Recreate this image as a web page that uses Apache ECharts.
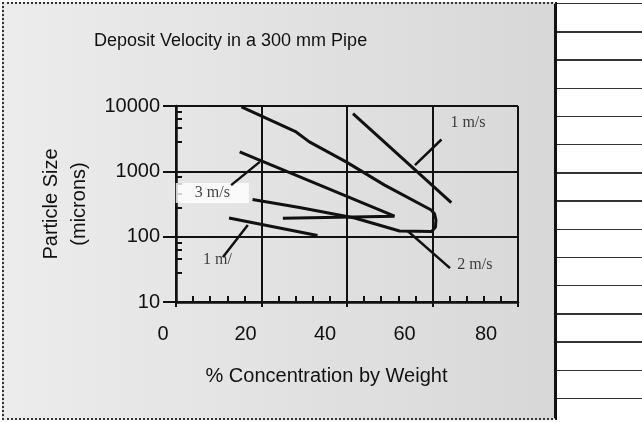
<!DOCTYPE html>
<html>
<head>
<meta charset="utf-8">
<title>Deposit Velocity in a 300 mm Pipe</title>
<script src="https://cdn.jsdelivr.net/npm/echarts@6/dist/echarts.min.js"></script>
<style>
  html, body { margin: 0; padding: 0; background: #fff; }
  #wrap { position: relative; width: 642px; height: 422px; overflow: hidden; }
  #panel {
    position: absolute; left: 2px; top: 2px; width: 550px; height: 414px;
    border-left: 2px dotted #333; border-top: 2px dotted #333; border-bottom: 2px dotted #333;
    border-right: 3px solid #111;
    background: linear-gradient(to right, #ececec, #d8d8d8);
  }
  #strip {
    position: absolute; left: 557px; top: 0; width: 85px; height: 422px;
    background: repeating-linear-gradient(to bottom, transparent 0px 3px, #333 3px 4.5px, transparent 4.5px 28.2px);
  }
  #chart { position: absolute; left: 0; top: 0; width: 642px; height: 422px; }
</style>
</head>
<body>
<div id="wrap">
  <div id="panel"></div>
  <div id="strip"></div>
  <div id="chart"></div>
</div>
<script>
var titleText = 'Deposit Velocity in a 300 mm Pipe'
var xName = '% Concentration by Weight'
var yName = 'Particle Size\n(microns)'

// curves, [% concentration, particle size in microns]
var curveA = [[15.3, 9720], [28.1, 4010], [31.2, 2820], [39.8, 1396], [48.8, 615], [59.7, 256],
  [60.5, 222], [60.8, 180], [60.7, 141], [59.8, 120], [52.3, 122], [41.8, 193], [28.9, 279], [17.9, 370]]
var curveB = [[14.9, 1990], [51.1, 206], [51.1, 193], [25.0, 191]]
var curveD = [[41.4, 7660], [64.4, 333]]
var curveE = [[12.4, 193], [33.1, 104]]

// label leader lines
var leader1Top = [[62.1, 3070], [55.9, 1245]]
var leader3 = [[12.9, 615], [19.6, 1396]]
var leader1Low = [[16.8, 151], [11.0, 49]]
var leader2 = [[54.2, 122], [64.1, 33]]

// labels
var labelText = ['1 m/s', '3 m/s', '1 m/', '2 m/s']
var labelX = [68.3, 8.5, 9.7, 69.9]
var labelY = [5450, 465, 44, 37]

var ink = '#111'

// the scanned tick labels drift left of their gridlines, more so to the right
var xLabelRich = {
  s0: { fontSize: 20, color: ink, padding: [0, 26, 0, 0] },
  s20: { fontSize: 20, color: ink, padding: [0, 32, 0, 0] },
  s40: { fontSize: 20, color: ink, padding: [0, 44, 0, 0] },
  s60: { fontSize: 20, color: ink, padding: [0, 56, 0, 0] },
  s80: { fontSize: 20, color: ink, padding: [0, 64, 0, 0] }
}

function lineSeries(data, width) {
  return {
    type: 'line',
    data: data,
    symbol: 'none',
    silent: true,
    lineStyle: { color: ink, width: width }
  }
}

var labelData = labelText.map(function (t, i) {
  var item = { value: [labelX[i], labelY[i], t] }
  if (t === '3 m/s') {
    item.label = { backgroundColor: '#fff', padding: [2, 19, 2, 19] }
  }
  return item
})

var chart = echarts.init(document.getElementById('chart'))

var option = {
  backgroundColor: 'transparent',
  animation: false,
  textStyle: { fontFamily: '"Liberation Sans", Arial, sans-serif', color: ink },
  title: {
    text: titleText,
    left: 94,
    top: 32,
    padding: 0,
    textStyle: { fontSize: 18, fontWeight: 'normal', color: ink }
  },
  grid: { left: 176, top: 106, width: 342, height: 196, show: false },
  xAxis: [{
    type: 'value',
    min: 0,
    max: 80,
    interval: 20,
    axisLine: { lineStyle: { color: ink, width: 2.5 } },
    axisTick: { inside: true, length: 6, lineStyle: { color: ink, width: 2 } },
    minorTick: { show: true, splitNumber: 5, length: 6, lineStyle: { color: ink, width: 2 } },
    splitLine: { show: true, lineStyle: { color: ink, width: 2 } },
    axisLabel: {
      fontSize: 20,
      color: ink,
      margin: 22,
      formatter: function (v) { return '{s' + v + '|' + v + '}' },
      rich: xLabelRich
    },
    name: xName,
    nameLocation: 'middle',
    nameGap: 64,
    nameTextStyle: { fontSize: 20, color: ink, padding: [0, 41, 0, 0] }
  }, {
    type: 'value',
    min: 0,
    max: 80,
    interval: 20,
    position: 'bottom',
    axisLine: { show: false },
    axisLabel: { show: false },
    splitLine: { show: false },
    axisTick: { length: 5, lineStyle: { color: ink, width: 2 } }
  }],
  yAxis: [{
    type: 'log',
    logBase: 10,
    min: 10,
    max: 10000,
    axisLine: { show: true, lineStyle: { color: ink, width: 2.5 } },
    axisTick: { show: true, inside: true, length: 6, lineStyle: { color: ink, width: 2 } },
    minorTick: { show: true, length: 6, lineStyle: { color: ink, width: 2 } },
    splitLine: { show: true, lineStyle: { color: ink, width: 2 } },
    axisLabel: {
      fontSize: 20,
      color: ink,
      margin: 16,
      formatter: function (v) { return String(Math.round(v)) }
    },
    name: yName,
    nameLocation: 'middle',
    nameGap: 82,
    nameRotate: 90,
    nameTextStyle: { fontSize: 20, color: ink, lineHeight: 28, align: 'center' }
  }, {
    type: 'log',
    logBase: 10,
    min: 10,
    max: 10000,
    position: 'left',
    axisLine: { show: false },
    axisLabel: { show: false },
    splitLine: { show: false },
    axisTick: { show: true, length: 13, lineStyle: { color: ink, width: 2 } }
  }],
  series: [
    lineSeries(curveA, 3),
    lineSeries(curveB, 3),
    lineSeries(curveD, 3),
    lineSeries(curveE, 3),
    lineSeries(leader1Top, 2.5),
    lineSeries(leader3, 2.5),
    lineSeries(leader1Low, 2.5),
    lineSeries(leader2, 2.5),
    {
      type: 'scatter',
      data: labelData,
      symbolSize: 1,
      silent: true,
      itemStyle: { color: 'transparent' },
      label: {
        show: true,
        position: 'inside',
        formatter: function (p) { return p.value[2] },
        fontFamily: '"Liberation Serif", "Times New Roman", serif',
        fontSize: 16,
        color: ink
      }
    }
  ]
}

chart.setOption(option)
</script>
</body>
</html>
